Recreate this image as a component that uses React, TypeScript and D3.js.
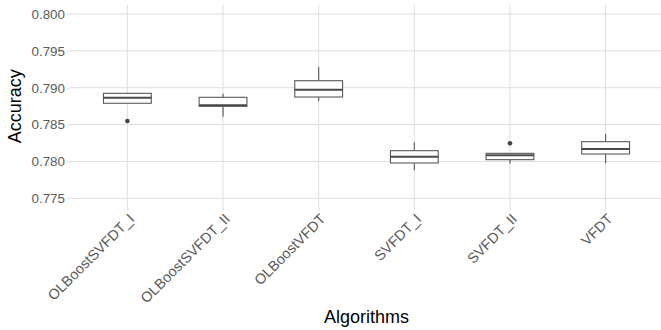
import React, { useEffect, useRef } from 'react';
import * as d3 from 'd3';

const algorithms = ['OLBoostSVFDT_I', 'OLBoostSVFDT_II', 'OLBoostVFDT', 'SVFDT_I', 'SVFDT_II', 'VFDT'];
const lowerWhisker = [0.78789, 0.78607, 0.7882, 0.7788, 0.77969, 0.77975];
const q1 = [0.78789, 0.78748, 0.78874, 0.77979, 0.78024, 0.78101];
const median = [0.78865, 0.78761, 0.78973, 0.78064, 0.78083, 0.78169];
const q3 = [0.78924, 0.7887, 0.79095, 0.78146, 0.7811, 0.78268];
const upperWhisker = [0.78924, 0.78919, 0.79281, 0.7826, 0.7811, 0.78372];
const outliers = [[0.78549], [], [], [], [0.78246], []];
const yTicks = [0.775, 0.78, 0.785, 0.79, 0.795, 0.8];

export default function App() {
    const ref = useRef<SVGSVGElement>(null);
    const width = 661;
    const height = 330;
    const left = 70;
    const right = 663;
    const top = 4.8;
    const bottom = 207.5;

    useEffect(() => {
        const svg = d3.select(ref.current);
        svg.selectAll('*').remove();

        const x = d3.scalePoint<string>().domain(algorithms).range([left, right]).padding(0.6);
        const y = d3.scaleLinear().domain([0.77375, 0.80125]).range([bottom, top]);
        const boxW = x.step() * 0.5;
        const font = 'Liberation Sans, Arial, sans-serif';

        // grid
        svg.append('g').selectAll('line').data(yTicks).join('line')
            .attr('x1', left).attr('x2', right)
            .attr('y1', d => y(d)).attr('y2', d => y(d))
            .attr('stroke', '#dedede').attr('stroke-width', 1);
        svg.append('g').selectAll('line').data(algorithms).join('line')
            .attr('x1', d => x(d)!).attr('x2', d => x(d)!)
            .attr('y1', top).attr('y2', bottom)
            .attr('stroke', '#dedede').attr('stroke-width', 1);

        // y axis
        const yAxis = svg.append('g').attr('transform', `translate(${left},0)`)
            .call(d3.axisLeft(y).tickValues(yTicks).tickFormat(d3.format('.3f')).tickSize(3).tickPadding(2));
        yAxis.select('.domain').remove();
        yAxis.selectAll('line').attr('stroke', '#dedede');
        yAxis.selectAll('text').attr('fill', '#5a5a5a').style('font-size', '13.4px').style('font-family', font);

        // x axis
        const xAxis = svg.append('g').attr('transform', `translate(0,${bottom})`)
            .call(d3.axisBottom(x).tickSize(3).tickFormat(d => d as string));
        xAxis.select('.domain').remove();
        xAxis.selectAll('line').attr('stroke', '#dedede');
        xAxis.selectAll('text')
            .attr('fill', '#5a5a5a').style('font-size', '14.4px').style('font-family', font)
            .attr('text-anchor', 'end')
            .attr('x', 0).attr('y', 0).attr('dy', '0.72em')
            .attr('transform', 'translate(0,5) rotate(-45)');

        // boxes
        const g = svg.append('g');
        algorithms.forEach((a, i) => {
            const cx = x(a)!;
            g.append('line').attr('x1', cx).attr('x2', cx)
                .attr('y1', y(upperWhisker[i])).attr('y2', y(q3[i]))
                .attr('stroke', '#595959').attr('stroke-width', 1.1);
            g.append('line').attr('x1', cx).attr('x2', cx)
                .attr('y1', y(q1[i])).attr('y2', y(lowerWhisker[i]))
                .attr('stroke', '#595959').attr('stroke-width', 1.1);
            g.append('rect')
                .attr('x', cx - boxW / 2).attr('width', boxW)
                .attr('y', y(q3[i])).attr('height', y(q1[i]) - y(q3[i]))
                .attr('fill', 'white').attr('stroke', '#595959').attr('stroke-width', 1.1);
            g.append('line').attr('x1', cx - boxW / 2).attr('x2', cx + boxW / 2)
                .attr('y1', y(median[i])).attr('y2', y(median[i]))
                .attr('stroke', '#4a4a4a').attr('stroke-width', 2);
            outliers[i].forEach(o => {
                g.append('circle').attr('cx', cx).attr('cy', y(o)).attr('r', 2.3).attr('fill', '#444');
            });
        });

        // titles
        svg.append('text')
            .attr('x', (left + right) / 2).attr('y', 323)
            .attr('text-anchor', 'middle')
            .style('font-size', '18px').style('font-family', font)
            .attr('fill', 'black')
            .text('Algorithms');
        svg.append('text')
            .attr('transform', `translate(21,${(top + bottom) / 2}) rotate(-90)`)
            .attr('text-anchor', 'middle')
            .style('font-size', '18px').style('font-family', font)
            .attr('fill', 'black')
            .text('Accuracy');
    }, []);

    return <svg ref={ref} width={width} height={height} style={{ position: 'absolute', left: 0, top: 0, background: 'white' }}></svg>;
}
